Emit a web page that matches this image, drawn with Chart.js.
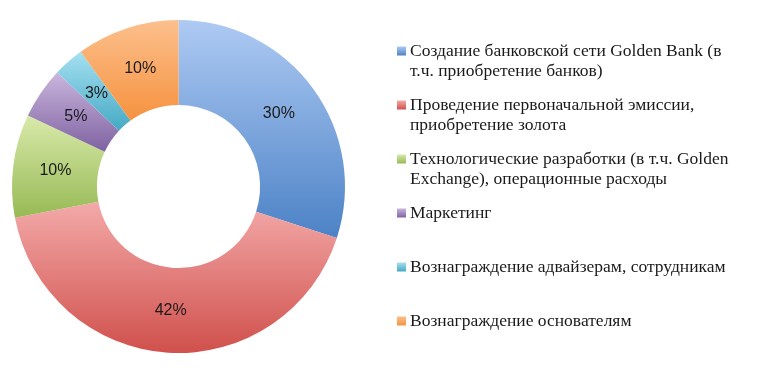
<!DOCTYPE html>
<html>
<head>
<meta charset="utf-8">
<script src="https://cdn.jsdelivr.net/npm/chart.js@4/dist/chart.umd.min.js"></script>
<style>
  html, body { margin: 0; padding: 0; background: #fff; }
  #wrap { width: 781px; height: 391px; }
</style>
</head>
<body>
<div id="wrap"><canvas id="c" width="781" height="391"></canvas></div>
<script>
// Données du graphique
const categories = [
    ['Создание банковской сети Golden Bank (в', 'т.ч. приобретение банков)'],
    ['Проведение первоначальной эмиссии,', 'приобретение золота'],
    ['Технологические разработки (в т.ч. Golden', 'Exchange), операционные расходы'],
    ['Маркетинг'],
    ['Вознаграждение адвайзерам, сотрудникам'],
    ['Вознаграждение основателям']
];
const values = [30, 42, 10, 5, 3, 10];
const valueLabels = ['30%', '42%', '10%', '5%', '3%', '10%'];

// Dégradés : [haut, bas]
const colorTop = ['#aecaf3', '#f3aaa9', '#d8eaaa', '#c9b6dd', '#a6e0f1', '#fcc08d'];
const colorBottom = ['#4c82c6', '#d0504c', '#97b955', '#7f62a1', '#45a9c4', '#f6923f'];

const CUTOUT = 0.49;

// Boîte englobante verticale d'un arc
function arcYRange(cy, r0, r1, a0, a1) {
    let minY = Infinity, maxY = -Infinity;
    const n = 60;
    for (let i = 0; i <= n; i++) {
        const a = a0 + (a1 - a0) * i / n;
        for (const r of [r0, r1]) {
            const y = cy + r * Math.sin(a);
            if (y < minY) minY = y;
            if (y > maxY) maxY = y;
        }
    }
    return [minY, maxY];
}

function sliceGradient(context) {
    const chart = context.chart;
    const area = chart.chartArea;
    const i = context.dataIndex;
    if (!area || i === undefined) return colorBottom[i || 0];
    const cx = (area.left + area.right) / 2;
    const cy = (area.top + area.bottom) / 2;
    const r1 = Math.min(area.right - area.left, area.bottom - area.top) / 2;
    const r0 = r1 * CUTOUT;
    const total = values.reduce((s, v) => s + v, 0);
    let a0 = -Math.PI / 2;
    for (let k = 0; k < i; k++) a0 += values[k] / total * Math.PI * 2;
    const a1 = a0 + values[i] / total * Math.PI * 2;
    const [y0, y1] = arcYRange(cy, r0, r1, a0, a1);
    const g = chart.ctx.createLinearGradient(0, y0, 0, y1);
    g.addColorStop(0, colorTop[i]);
    g.addColorStop(1, colorBottom[i]);
    return g;
}

// Étiquettes de pourcentage dans les parts
const sliceLabels = {
    id: 'sliceLabels',
    afterDatasetsDraw(chart) {
        const ctx = chart.ctx;
        const meta = chart.getDatasetMeta(0);
        ctx.save();
        ctx.font = '16px "Liberation Sans", Arial, sans-serif';
        ctx.fillStyle = '#1a1a1a';
        ctx.textAlign = 'center';
        ctx.textBaseline = 'middle';
        meta.data.forEach((arc, i) => {
            const p = arc.tooltipPosition();
            ctx.fillText(valueLabels[i], p.x, p.y);
        });
        ctx.restore();
    }
};

// Légende sur deux lignes, à droite
const sideLegend = {
    id: 'sideLegend',
    afterDraw(chart) {
        const ctx = chart.ctx;
        const x0 = 397, textX = 410, startY = 51, step = 54, lineH = 20, box = 9;
        ctx.save();
        ctx.font = '17.5px "Liberation Serif", "DejaVu Serif", serif';
        ctx.textBaseline = 'middle';
        categories.forEach((lines, i) => {
            const y = startY + i * step;
            const g = ctx.createLinearGradient(0, y - box / 2, 0, y + box / 2);
            g.addColorStop(0, colorTop[i]);
            g.addColorStop(1, colorBottom[i]);
            ctx.fillStyle = g;
            ctx.fillRect(x0, y - box / 2, box, box);
            ctx.fillStyle = '#1a1a1a';
            lines.forEach((t, j) => ctx.fillText(t, textX, y + j * lineH));
        });
        ctx.restore();
    }
};

new Chart(document.getElementById('c'), {
    type: 'doughnut',
    data: {
        labels: categories.map(l => l.join(' ')),
        datasets: [{
            data: values,
            backgroundColor: sliceGradient,
            borderWidth: 0
        }]
    },
    options: {
        responsive: false,
        animation: false,
        cutout: (CUTOUT * 100) + '%',
        layout: { padding: { left: 12, top: 20, right: 436, bottom: 38 } },
        plugins: {
            legend: { display: false },
            tooltip: { enabled: false }
        }
    },
    plugins: [sliceLabels, sideLegend]
});
</script>
</body>
</html>
